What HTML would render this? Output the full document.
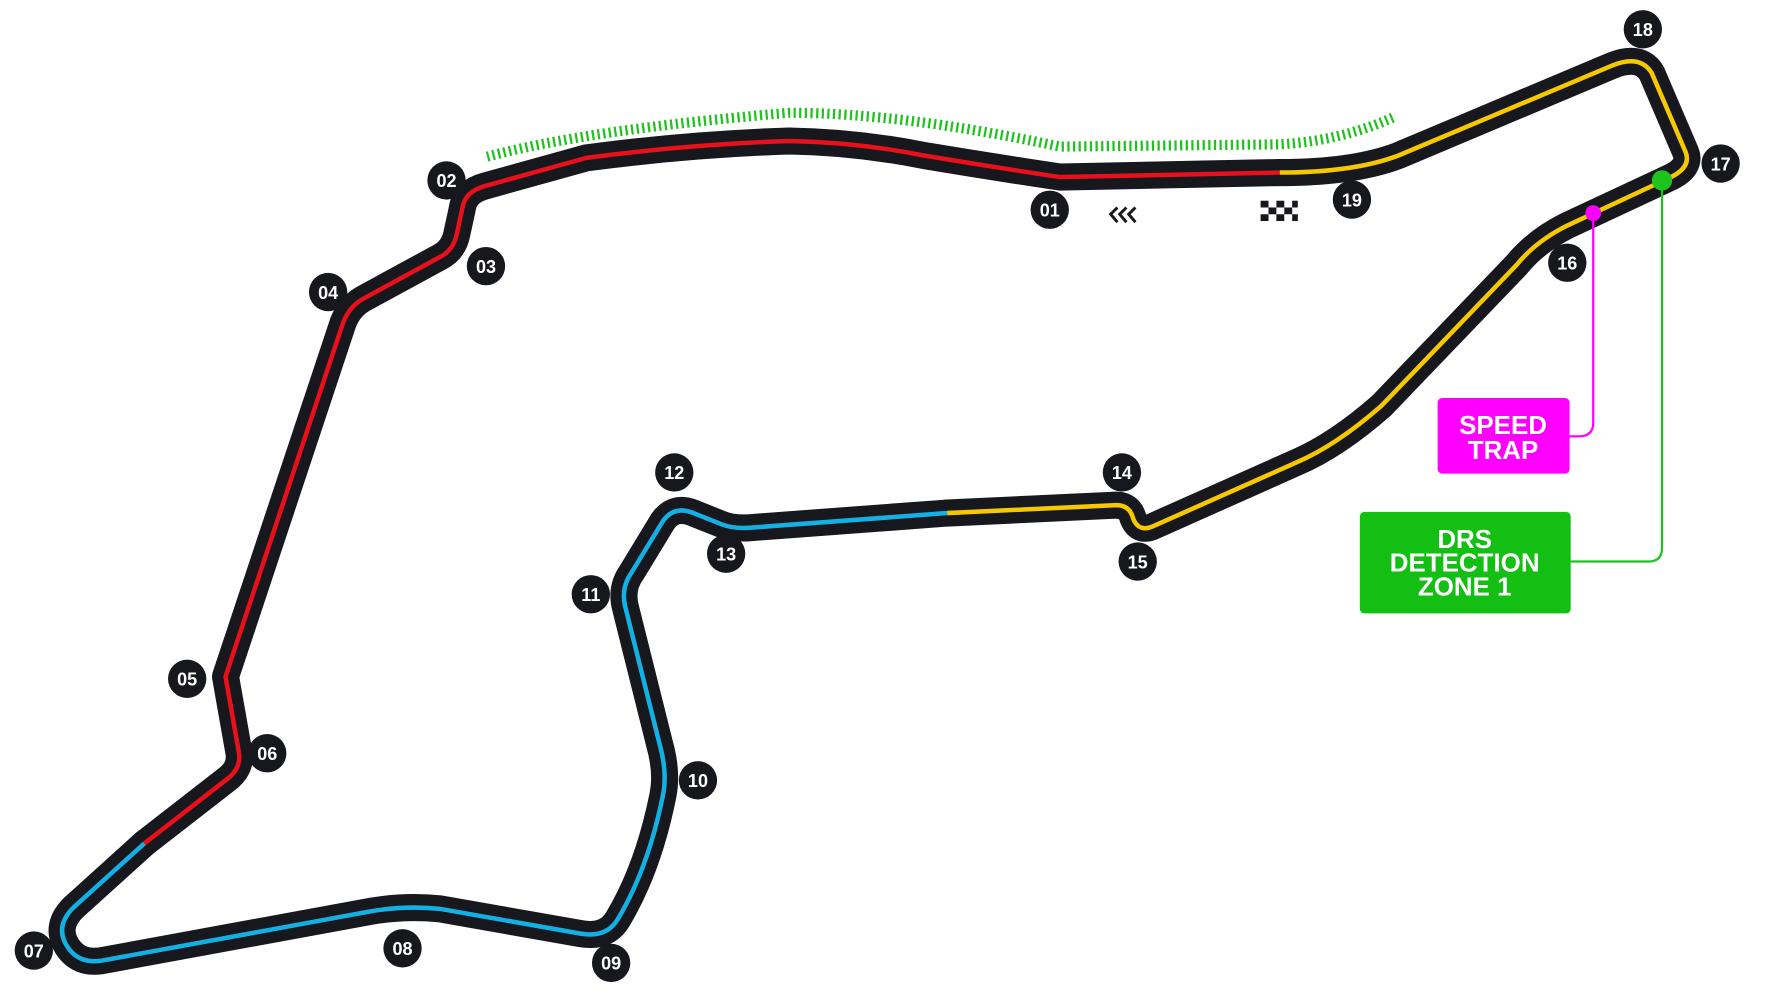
<!DOCTYPE html>
<html><head><meta charset="utf-8"><style>html,body{margin:0;padding:0;background:#fff}svg{display:block}</style></head>
<body>
<svg width="1768" height="995" viewBox="0 0 1568 882.4" xmlns="http://www.w3.org/2000/svg">
<defs>
<path id="red" d="M1135,153 L940,157 Q880,148 820,138 Q760,126 700,125 Q610,128 520,140 L430,165 Q412,170 410,185 L405,208 Q402,222 390,228 L322,265 Q308,273 303,290 L200,600 L212,668 Q214,682 200,692 L128,748"/>
<path id="blue" d="M128,748 L65,805 Q48,822 60,840 Q70,855 90,852 L330,808 Q360,803 390,806 L515,828 Q538,832 548,815 Q575,770 588,705 Q592,685 585,660 L555,540 Q550,522 560,508 L588,462 Q598,448 615,455 L640,465 Q650,469 665,468 L840,455"/>
<path id="yel" d="M840,455 L990,448 Q1002,448 1005,460 Q1010,472 1022,467 L1150,410 Q1185,395 1225,360 L1345,235 Q1362,214 1390,200 L1482,157 Q1500,148 1495,135 L1465,65 Q1455,48 1430,58 L1240,138 Q1200,153 1135,153"/>
</defs>
<path d="M432,139 Q520,115 700,100 Q800,100 940,130 L1135,128 Q1190,125 1238,103" fill="none" stroke="#1ec31e" stroke-width="9" stroke-dasharray="2 3"/>
<g fill="none" stroke="#17171e" stroke-width="24" stroke-linejoin="round" stroke-linecap="round">
<use href="#red"/><use href="#blue"/><use href="#yel"/></g>
<g fill="none" stroke-width="4" stroke-linejoin="round">
<use href="#red" stroke="#e8101a"/><use href="#blue" stroke="#14b0e4"/><use href="#yel" stroke="#f6c800"/></g>
<path d="M1413,189 L1413,375 Q1413,387 1400,387 L1392,387" fill="none" stroke="#f0f" stroke-width="2"/>
<circle cx="1413" cy="189" r="7" fill="#f0f"/>
<path d="M1474,160 L1474,486 Q1474,498 1462,498 L1393,498" fill="none" stroke="#1ec31e" stroke-width="2"/>
<circle cx="1474" cy="160" r="9" fill="#1ec31e"/>
<rect x="1275" y="353" width="117" height="67" rx="4" fill="#f0f"/>
<rect x="1206" y="454" width="187" height="90" rx="4" fill="#12bf12"/>
<g font-family="Liberation Sans, sans-serif" font-weight="bold" fill="#fff" text-anchor="middle" font-size="23">
<text x="1333" y="385">SPEED</text><text x="1333" y="407">TRAP</text>
<text x="1299" y="486">DRS</text><text x="1299" y="507">DETECTION</text><text x="1299" y="528">ZONE 1</text>
</g>
<g fill="none" stroke="#17171e" stroke-width="2.6">
<polyline points="991,184 985,190 991,197"/><polyline points="999,184 993,190 999,197"/><polyline points="1007,184 1001,190 1007,197"/>
</g>
<g fill="#17171e">
<rect x="1118" y="178" width="7" height="6"/><rect x="1132" y="178" width="7" height="6"/><rect x="1146" y="178" width="5" height="6"/>
<rect x="1125" y="184" width="7" height="6"/><rect x="1139" y="184" width="7" height="6"/>
<rect x="1118" y="190" width="7" height="6"/><rect x="1132" y="190" width="7" height="6"/><rect x="1146" y="190" width="5" height="6"/>
</g>
<g font-family="Liberation Sans, sans-serif" font-weight="bold" font-size="16" fill="#fff" text-anchor="middle">
<g fill="#17171e">
<circle cx="931" cy="186" r="17"/><circle cx="396" cy="160" r="17"/><circle cx="431" cy="236" r="17"/><circle cx="291" cy="259" r="17"/><circle cx="166" cy="602" r="17"/><circle cx="237" cy="668" r="17"/><circle cx="30" cy="843" r="17"/><circle cx="357" cy="841" r="17"/><circle cx="542" cy="854" r="17"/><circle cx="619" cy="692" r="17"/><circle cx="524" cy="527" r="17"/><circle cx="598" cy="419" r="17"/><circle cx="644" cy="491" r="17"/><circle cx="995" cy="419" r="17"/><circle cx="1009" cy="498" r="17"/><circle cx="1390" cy="233" r="17"/><circle cx="1526" cy="145" r="17"/><circle cx="1457" cy="26" r="17"/><circle cx="1199" cy="177" r="17"/>
</g>
<text x="931" y="192">01</text><text x="396" y="166">02</text><text x="431" y="242">03</text><text x="291" y="265">04</text><text x="166" y="608">05</text><text x="237" y="674">06</text><text x="30" y="849">07</text><text x="357" y="847">08</text><text x="542" y="860">09</text><text x="619" y="698">10</text><text x="524" y="533">11</text><text x="598" y="425">12</text><text x="644" y="497">13</text><text x="995" y="425">14</text><text x="1009" y="504">15</text><text x="1390" y="239">16</text><text x="1526" y="151">17</text><text x="1457" y="32">18</text><text x="1199" y="183">19</text>
</g>
</svg>
</body></html>
